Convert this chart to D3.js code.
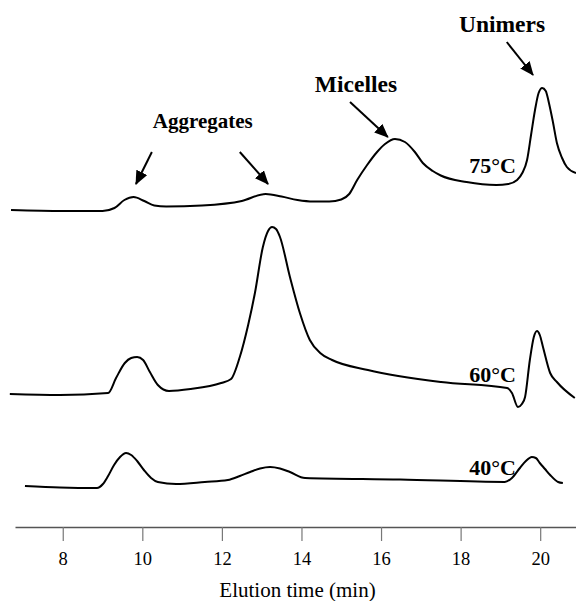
<!DOCTYPE html>
<html>
<head>
<meta charset="utf-8">
<script src="https://cdn.jsdelivr.net/npm/d3@7"></script>
<style>
    body { margin: 0; background: #fff; }
    svg { display: block; font-family: "Liberation Serif", "Times New Roman", serif; }
</style>
</head>
<body>
<div id="graph"></div>
<script>
// elution times (min) and detector signal (arbitrary units, traces stacked)
const t75 = [6.7, 8.0, 9.0, 9.3, 9.55, 9.78, 10.05, 10.3, 10.6, 11.5,
    12.5, 13.1, 13.5, 13.9, 14.3, 14.7, 15.0, 15.2, 15.4, 15.65,
    15.9, 16.1, 16.35, 16.6, 16.85, 17.05, 17.3, 17.5, 18.15, 18.9,
    19.2, 19.42, 19.55, 19.67, 19.77, 19.87, 19.96, 20.05, 20.14, 20.22,
    20.32, 20.42, 20.55, 20.67, 20.9];
const v75 = [63.4, 63.2, 63.2, 63.8, 65.4, 66.0, 65.2, 64.3, 64.1, 64.3,
    65.2, 66.6, 66.1, 65.4, 65.1, 65.1, 65.5, 66.6, 69.4, 72.4,
    75.0, 76.6, 77.6, 77.0, 75.0, 72.8, 71.2, 70.3, 69.0, 68.4,
    68.6, 69.4, 70.8, 73.4, 78.4, 83.4, 86.8, 87.8, 87.2, 84.8,
    81.0, 76.8, 73.8, 72.0, 70.8];

const t60 = [6.67, 7.93, 9.14, 9.34, 9.56, 9.72, 9.87, 10.02, 10.19, 10.39,
    10.67, 11.22, 11.98, 12.23, 12.45, 12.66, 12.83, 13.03, 13.16, 13.26,
    13.36, 13.46, 13.71, 13.96, 14.21, 14.47, 14.77, 15.67, 17.51, 19.17,
    19.29, 19.44, 19.54, 19.62, 19.74, 19.84, 19.92, 19.99, 20.07, 20.25,
    20.42, 20.87];
const v60 = [26.6, 26.4, 26.8, 29.8, 32.8, 33.8, 34.0, 33.4, 31.0, 28.4,
    27.2, 27.6, 28.8, 29.6, 34.0, 40.4, 46.8, 56.0, 59.2, 60.0,
    59.6, 58.0, 50.0, 42.8, 37.4, 34.8, 33.4, 31.4, 29.0, 27.8,
    26.8, 24.0, 24.6, 26.0, 33.4, 38.0, 39.2, 38.4, 36.0, 30.8,
    29.0, 25.8];

const t40 = [7.05, 7.93, 8.86, 9.01, 9.14, 9.29, 9.44, 9.59, 9.72, 9.87,
    10.04, 10.22, 10.39, 10.85, 11.57, 12.15, 12.45, 12.71, 12.96, 13.21,
    13.46, 13.71, 14.09, 16.48, 19.11, 19.29, 19.49, 19.64, 19.79, 19.89,
    19.99, 20.12, 20.25, 20.45, 20.57];
const v40 = [8.2, 7.9, 7.8, 8.6, 10.2, 12.4, 14.0, 14.8, 14.4, 13.2,
    11.4, 9.8, 9.0, 8.6, 9.0, 9.4, 10.2, 11.0, 11.7, 12.0,
    11.7, 11.0, 9.8, 9.5, 9.0, 9.8, 11.8, 13.2, 14.0, 13.8,
    12.8, 11.6, 10.4, 9.0, 8.8];

const xTicks = [8, 10, 12, 14, 16, 18, 20];

// temperature labels: [text, time of right edge, signal at baseline]
const tempLabels = [["75°C", 19.39, 70.8], ["60°C", 19.39, 29.0], ["40°C", 19.39, 10.4]];

// peak labels: [text, centre time, signal at baseline]
const peakLabels = [["Aggregates", 11.52, 79.8], ["Micelles", 15.37, 87.0], ["Unimers", 19.04, 99.0]];

// arrows: [from time, from signal, to time, to signal]
const arrows = [
    [10.24, 75.0, 9.84, 68.6],
    [12.45, 75.0, 13.16, 68.6],
    [15.22, 85.0, 16.17, 78.0],
    [19.16, 97.0, 19.82, 90.4]
];

const width = 576, height = 601;
const labelSize = {Aggregates: "21px", Micelles: "23.5px", Unimers: "23.5px"};

const xScale = d3.scaleLinear().domain([6.8, 20.9]).range([15, 576]);
const yScale = d3.scaleLinear().domain([0, 100]).range([527, 27]);

const svg = d3.select("#graph")
    .append("svg")
    .attr("width", width)
    .attr("height", height);

svg.append("defs").append("marker")
    .attr("id", "head")
    .attr("markerUnits", "userSpaceOnUse")
    .attr("viewBox", "0 0 14 12")
    .attr("refX", 13)
    .attr("refY", 6)
    .attr("markerWidth", 14)
    .attr("markerHeight", 12)
    .attr("orient", "auto")
    .append("path")
    .attr("d", "M0,0 L14,6 L0,12 Z")
    .attr("fill", "#000");

// x axis
const xAxis = d3.axisBottom(xScale)
    .tickValues(xTicks)
    .tickSize(14)
    .tickSizeOuter(0)
    .tickPadding(11)
    .tickFormat(d3.format("d"));

const gx = svg.append("g")
    .attr("transform", "translate(0," + yScale(0) + ")")
    .call(xAxis);

gx.select(".domain").attr("stroke", "#555").attr("stroke-width", 1.3);
gx.selectAll(".tick line").attr("stroke", "#777").attr("stroke-width", 1.2);
gx.selectAll(".tick text")
    .attr("fill", "#000")
    .style("font-size", "18.5px")
    .style("font-family", "'Liberation Serif', 'Times New Roman', serif");

svg.append("text")
    .attr("x", (xScale(6.8) + xScale(20.9)) / 2 + 2)
    .attr("y", 597)
    .attr("text-anchor", "middle")
    .style("font-size", "21px")
    .text("Elution time (min)");

// traces
const line = d3.line()
    .x(d => xScale(d[0]))
    .y(d => yScale(d[1]))
    .curve(d3.curveMonotoneX);

const traces = [[t75, v75], [t60, v60], [t40, v40]];

svg.selectAll(".trace")
    .data(traces)
    .join("path")
    .attr("class", "trace")
    .attr("d", d => line(d[0].map((t, i) => [t, d[1][i]])))
    .attr("fill", "none")
    .attr("stroke", "#000")
    .attr("stroke-width", 2);

// temperature labels
svg.selectAll(".temp")
    .data(tempLabels)
    .join("text")
    .attr("class", "temp")
    .attr("x", d => xScale(d[1]))
    .attr("y", d => yScale(d[2]))
    .attr("text-anchor", "end")
    .style("font-size", "22px")
    .style("font-weight", "bold")
    .text(d => d[0]);

// peak labels and arrows
svg.selectAll(".peak")
    .data(peakLabels)
    .join("text")
    .attr("class", "peak")
    .attr("x", d => xScale(d[1]))
    .attr("y", d => yScale(d[2]))
    .attr("text-anchor", "middle")
    .style("font-size", d => labelSize[d[0]])
    .style("font-weight", "bold")
    .text(d => d[0]);

svg.selectAll(".arrow")
    .data(arrows)
    .join("line")
    .attr("class", "arrow")
    .attr("x1", d => xScale(d[0]))
    .attr("y1", d => yScale(d[1]))
    .attr("x2", d => xScale(d[2]))
    .attr("y2", d => yScale(d[3]))
    .attr("stroke", "#000")
    .attr("stroke-width", 2)
    .attr("marker-end", "url(#head)");
</script>
</body>
</html>
